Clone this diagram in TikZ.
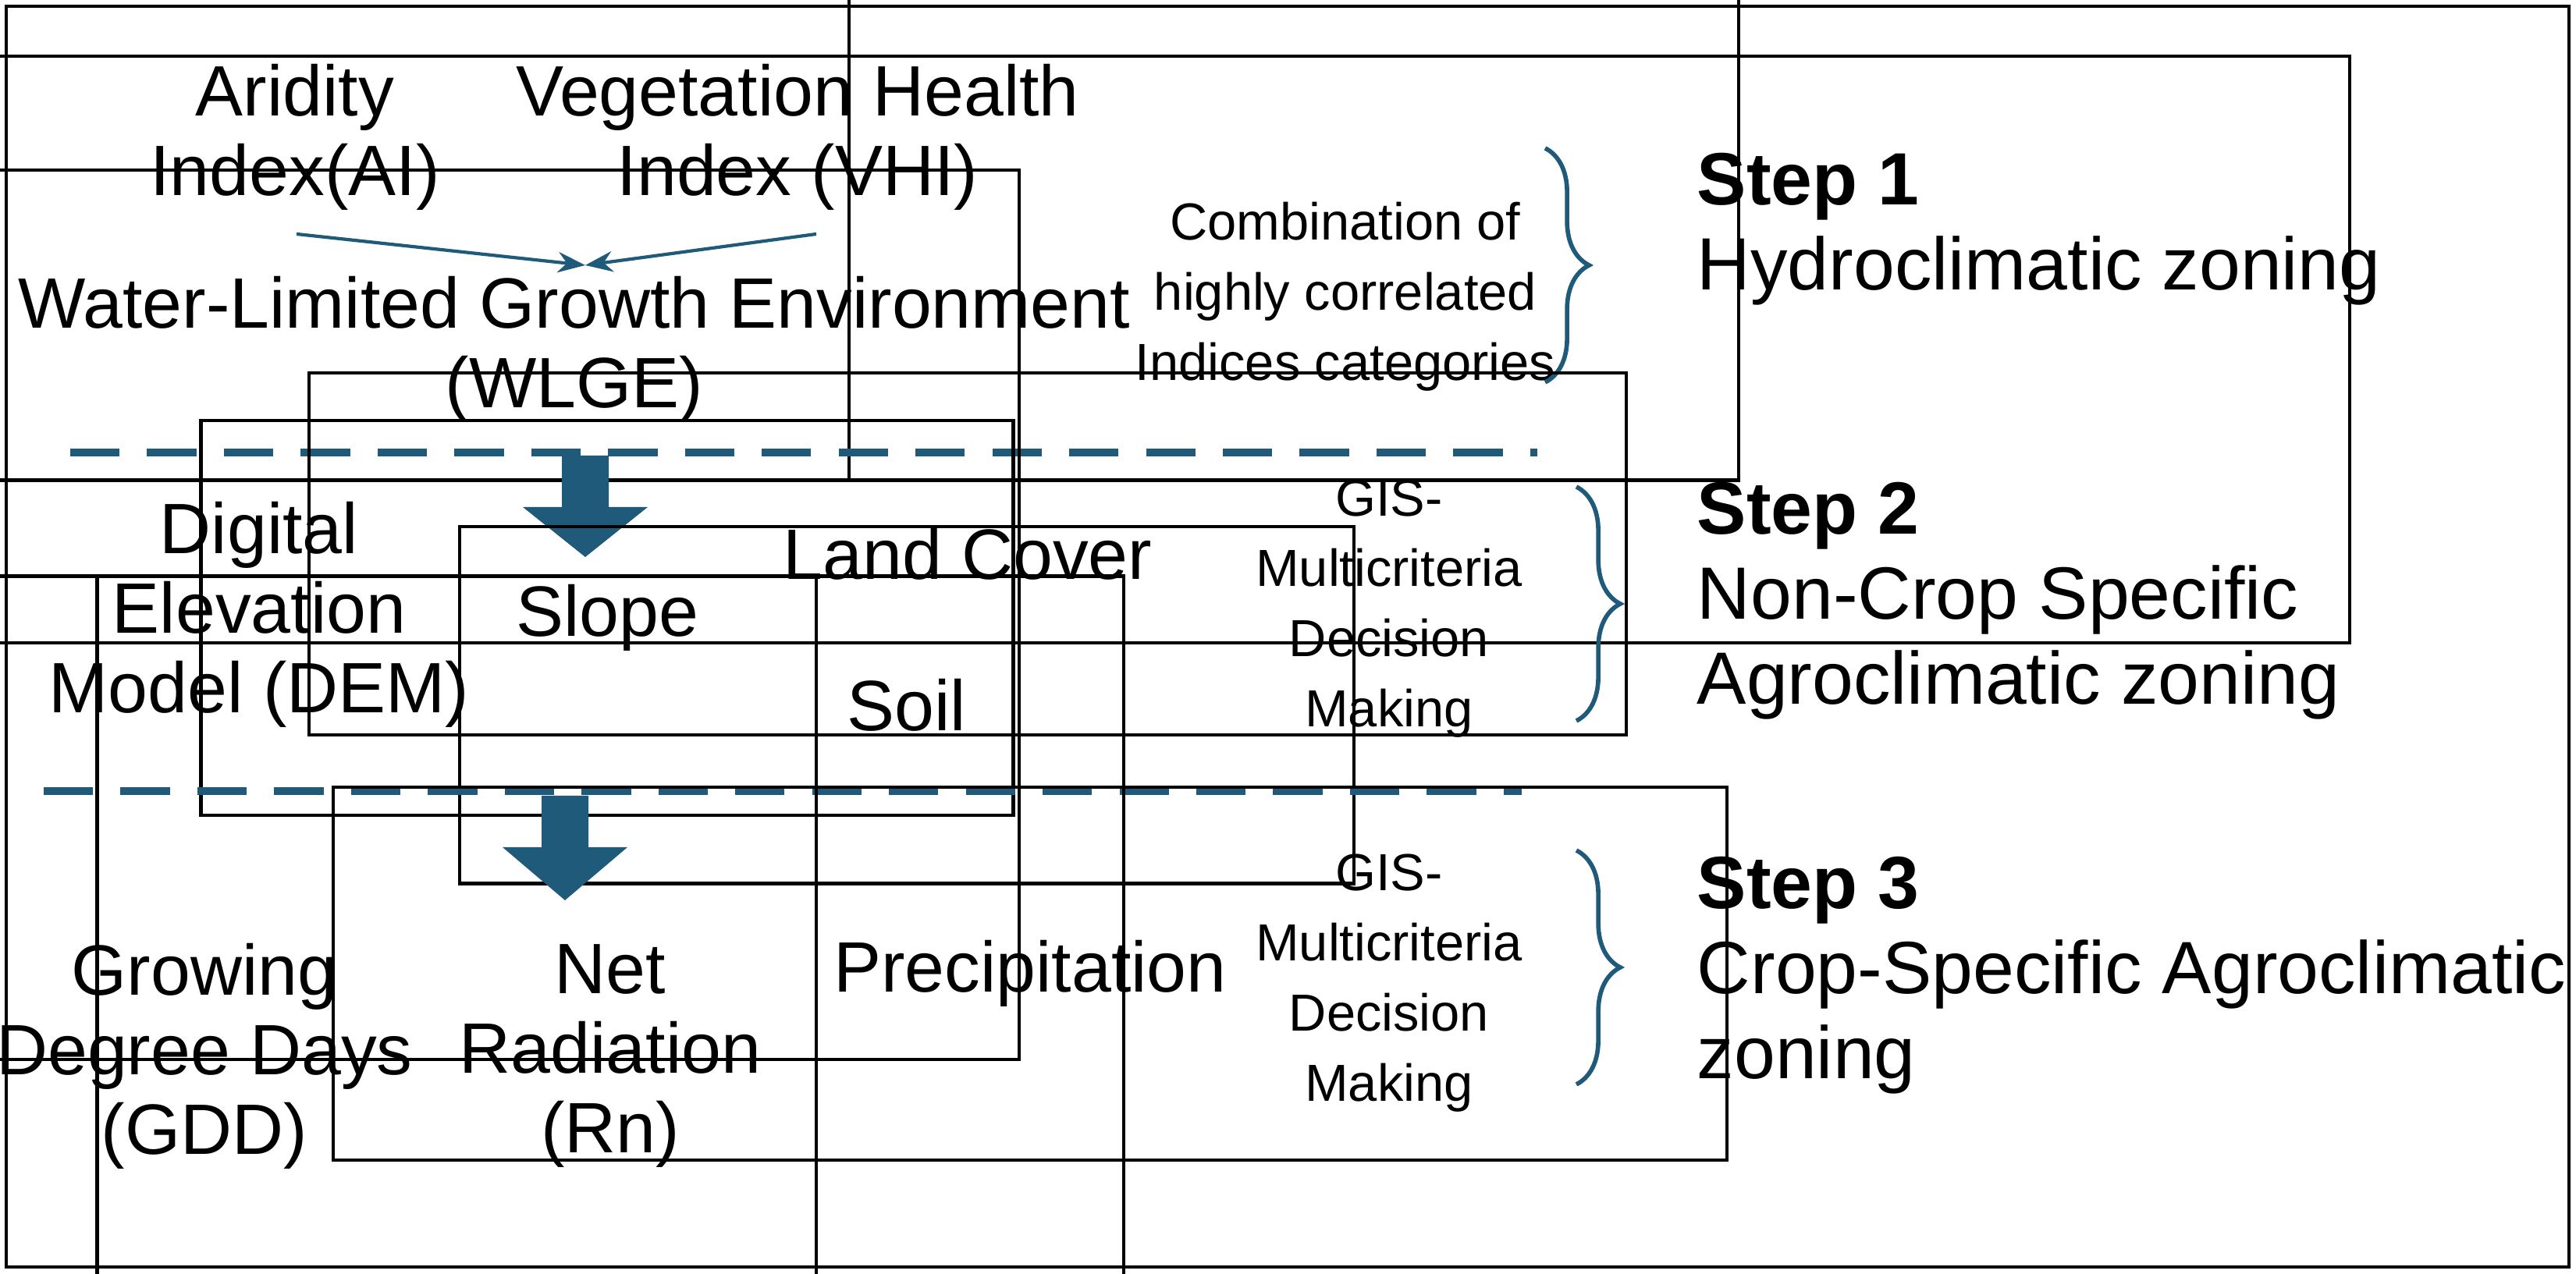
\documentclass[tikz,border=0pt]{standalone}
\usepackage{fontspec}
\setmainfont{Liberation Sans}
\usetikzlibrary{decorations.pathreplacing,arrows.meta}
\definecolor{tb}{RGB}{31,90,122}
\begin{document}
\begin{tikzpicture}[x=0.01cm,y=-0.01cm,
 box/.style={draw,line width=0.6pt,align=center,inner sep=0pt,font=\fontsize{13}{14.5}\selectfont},
 dashln/.style={draw=tb,line width=1.3pt,dash pattern=on 9pt off 5pt},
 brc/.style={draw=tb,line width=0.8pt,decorate,decoration={brace,amplitude=8pt}},
 small/.style={align=center,font=\fontsize{9.5}{12.8}\selectfont},
 steptxt/.style={align=left,anchor=west,font=\fontsize{13.5}{15.5}\selectfont},
 blk/.style={fill=tb,draw=none}]
\useasboundingbox (0,0) rectangle (1650.5,816.5);
\draw[line width=0.6pt] (4,4) rectangle (1646,812);
% step 1
\node[box,minimum width=202,minimum height=125] (ai) at (189,88) {Aridity\\Index(AI)};
\node[box,minimum width=343,minimum height=125] (vhi) at (511,88) {Vegetation Health\\Index (VHI)};
\node[box,minimum width=647,minimum height=107] (wlge) at (368,224) {Water-Limited Growth Environment\\(WLGE)};
\coordinate (m) at (375,170);
\draw[tb,line width=0.6pt,-{Stealth[length=5pt]}] (190,150) -- (m);
\draw[tb,line width=0.6pt,-{Stealth[length=5pt]}] (523,150) -- (m);
\node[small] (c1) at (862,190) {Combination of\\highly correlated\\Indices categories};
\draw[brc] (990,95) -- (990,245);
\node[steptxt] (s1) at (1075,147) {\textbf{Step 1}\\Hydroclimatic zoning};
\draw[dashln] (45,290) -- (985,290);
\fill[blk] (360,292) -- (390,292) -- (390,325) -- (415,325) -- (375,357) -- (335,325) -- (360,325) -- cycle;
% step 2
\node[box,minimum width=277,minimum height=162] (dem) at (166,394) {Digital\\Elevation\\Model (DEM)};
\node[box,minimum width=148,minimum height=72] (slope) at (389,396) {Slope};
\node[box,minimum width=240,minimum height=66] (lc) at (620,355) {Land Cover};
\node[box,minimum width=163,minimum height=65] (soil) at (581,452) {Soil};
\node[small] (g2) at (890,390) {GIS-\\Multicriteria\\Decision\\Making};
\draw[brc] (1010,312) -- (1010,462);
\node[steptxt] (s2) at (1075,385) {\textbf{Step 2}\\Non-Crop Specific\\Agroclimatic zoning};
\draw[dashln] (28,507) -- (975,507);
\fill[blk] (347,510) -- (377,510) -- (377,543) -- (402,543) -- (362,577) -- (322,543) -- (347,543) -- cycle;
% step 3
\node[box,minimum width=223,minimum height=175] (gdd) at (131,677) {Growing\\Degree Days\\(GDD)};
\node[box,minimum width=187,minimum height=175] (rn) at (391,677) {Net\\Radiation\\(Rn)};
\node[box,minimum width=254,minimum height=68] (pr) at (660,624) {Precipitation};
\node[small] (g3) at (890,630) {GIS-\\Multicriteria\\Decision\\Making};
\draw[brc] (1010,545) -- (1010,695);
\node[steptxt] (s3) at (1075,625) {\textbf{Step 3}\\Crop-Specific Agroclimatic\\zoning};
\end{tikzpicture}
\end{document}
